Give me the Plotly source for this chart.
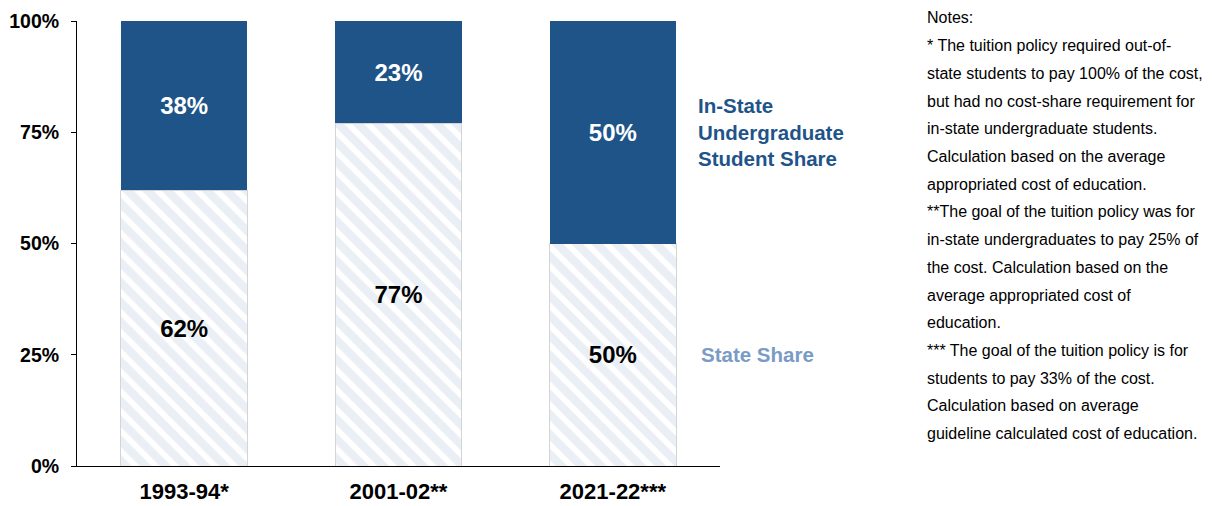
import plotly.graph_objects as go

categories = ["1993-94*", "2001-02**", "2021-22***"]
state_share = [62, 77, 50]
student_share = [38, 23, 50]
y_ticks = [0, 25, 50, 75, 100]
series_names = ["State Share", "In-State Undergraduate Student Share"]

notes_lines = [
    "Notes:",
    "* The tuition policy required out-of-",
    "state students to pay 100% of the cost,",
    "but had no cost-share requirement for",
    "in-state undergraduate students.",
    "Calculation based on the average",
    "appropriated cost of education.",
    "**The goal of the tuition policy was for",
    "in-state undergraduates to pay 25% of",
    "the cost. Calculation based on the",
    "average appropriated cost of",
    "education.",
    "*** The goal of the tuition policy is for",
    "students to pay 33% of the cost.",
    "Calculation based on average",
    "guideline calculated cost of education.",
]

DARK = "#1f5489"
LIGHT_TXT = "#7a9bc5"
BOLD_FONT = "Liberation Sans"

# page body adds an 8px offset; plot area in screen px: x 77..720, y 21..466
OFF = 8
PL, PR, PT, PB = 77, 720, 21, 466
PW, PH = PR - PL, PB - PT

fig = go.Figure()
fig.add_trace(go.Bar(
    x=categories, y=state_share, name=series_names[0],
    marker=dict(color="white", line=dict(color="#d4d4d4", width=1),
                pattern=dict(shape="\\", fgcolor="#d6dfeb", bgcolor="white",
                             size=14, solidity=0.6, fillmode="overlay")),
    text=[f"<b>{v}%</b>" for v in state_share], textposition="inside",
    insidetextanchor="middle",
    textfont=dict(family=BOLD_FONT, size=24, color="black"),
    width=0.59,
))
fig.add_trace(go.Bar(
    x=categories, y=student_share, name=series_names[1],
    marker=dict(color=DARK, line=dict(width=0)),
    text=[f"<b>{v}%</b>" for v in student_share], textposition="inside",
    insidetextanchor="middle",
    textfont=dict(family=BOLD_FONT, size=24, color="white"),
    width=0.59,
))

W, H = 1212 - OFF, 506 - OFF
fig.update_layout(
    barmode="stack",
    width=W, height=H,
    margin=dict(l=PL - OFF, r=W - (PR - OFF), t=PT - OFF, b=H - (PB - OFF),
                autoexpand=False),
    paper_bgcolor="white", plot_bgcolor="white",
    showlegend=False,
    font=dict(family=BOLD_FONT, color="black"),
)
fig.update_yaxes(
    range=[0, 100], tickvals=y_ticks, ticktext=[f"<b>{v}%</b>" for v in y_ticks],
    showline=True, linecolor="black", linewidth=1,
    ticks="outside", ticklen=5, tickcolor="black",
    showgrid=False, zeroline=False, automargin=False,
    tickfont=dict(family=BOLD_FONT, size=19.5, color="black"),
    ticklabelstandoff=8,
)
fig.update_xaxes(
    showline=True, linecolor="black", linewidth=1,
    ticks="", showgrid=False, automargin=False,
    tickvals=categories, ticktext=[f"<b>{c}</b>" for c in categories],
    tickfont=dict(family=BOLD_FONT, size=22, color="black"),
    ticklabelstandoff=6,
)

# Series labels
fig.add_annotation(xref="paper", yref="y", x=(696 - PL) / PW, y=75,
                   text="<b>In-State<br>Undergraduate<br>Student Share</b>",
                   showarrow=False, xanchor="left", yanchor="middle", align="left",
                   font=dict(family=BOLD_FONT, size=20.5, color=DARK))
fig.add_annotation(xref="paper", yref="y", x=(699 - PL) / PW, y=25,
                   text="<b>State Share</b>",
                   showarrow=False, xanchor="left", yanchor="middle", align="left",
                   font=dict(family=BOLD_FONT, size=20.5, color=LIGHT_TXT))

# Notes
y0_px = 18
step = 27.7
for i, line in enumerate(notes_lines):
    ypx = y0_px + i * step
    yp = (PB - ypx) / PH
    fig.add_annotation(xref="paper", yref="paper", x=(925 - PL) / PW, y=yp,
                       text=line, showarrow=False, xanchor="left", yanchor="middle",
                       font=dict(family="Liberation Sans", size=16, color="black"))

fig.write_html("out.html")
